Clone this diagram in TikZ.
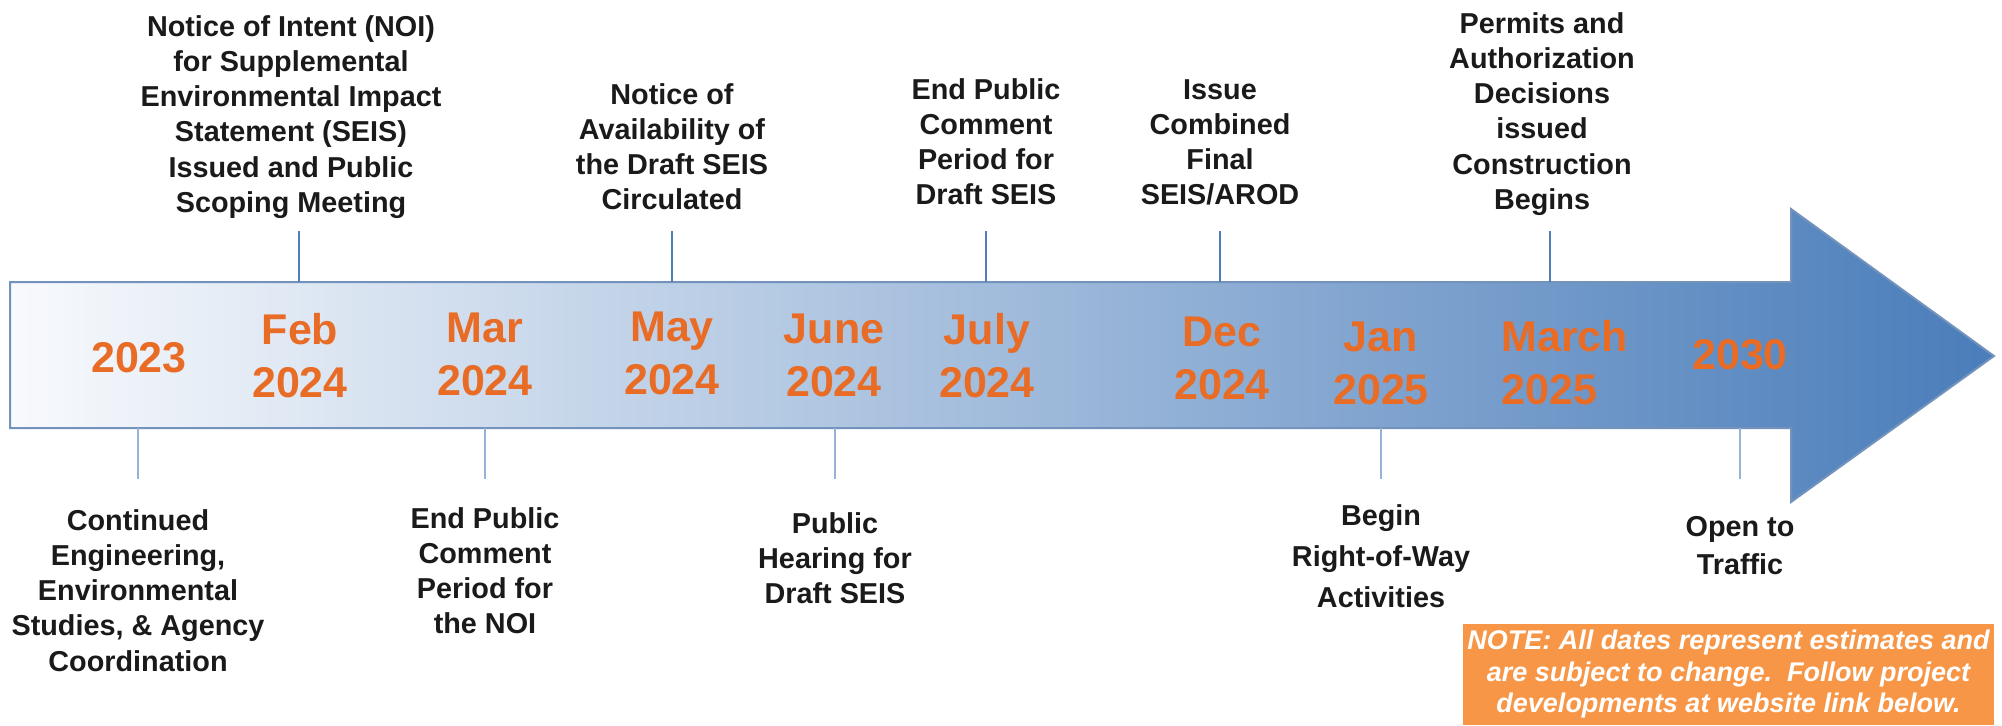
\documentclass[tikz,border=0pt]{standalone}
\usepackage{fontspec}
\setmainfont{Liberation Sans}
\usetikzlibrary{positioning}

\definecolor{dateorange}{HTML}{E86C26}
\definecolor{eventtext}{HTML}{1A1A1A}
\definecolor{arrowleft}{HTML}{F8FAFD}
\definecolor{arrowright}{HTML}{4A7DBA}
\definecolor{arrowline}{HTML}{7393BC}
\definecolor{stemdark}{HTML}{4F7DB9}
\definecolor{stemlight}{HTML}{95B3D7}
\definecolor{noteorange}{HTML}{F79646}

\begin{document}
\begin{tikzpicture}[x=0.5pt, y=-0.5pt]
    \tikzset{
      date/.style={text=dateorange, font=\fontsize{21.5}{26.5}\selectfont\bfseries, align=center, inner sep=0pt},
      event/.style={text=eventtext, font=\fontsize{14.4}{17.6}\selectfont\bfseries, align=center, inner sep=0pt, anchor=north},
      stemup/.style={draw=stemdark, line width=0.7pt},
      stemdown/.style={draw=stemlight, line width=0.7pt},
      timeline/.style={left color=arrowleft, right color=arrowright, draw=arrowline, line width=1pt},
      note/.style={fill=noteorange, text=white, font=\fontsize{13.5}{15.75}\selectfont\bfseries\itshape, align=center, inner sep=0pt, minimum width=265.5pt, minimum height=50.5pt}
    }
    \useasboundingbox (0,0) rectangle (2002,725);

    % arrow
    \path[timeline] (10,282) -- (1791,282) -- (1791,209) -- (1994,356) -- (1791,502) -- (1791,428) -- (10,428) -- cycle;

    % dates
    \node[date] (d2023) at (139,358) {2023};
    \node[date, anchor=north] (dfeb) at (300,313) {Feb\\2024};
    \node[date, anchor=north] (dmar) at (485,313) {Mar\\2024};
    \node[date, anchor=north] (dmay) at (672,312) {May\\2024};
    \node[date, anchor=north] (djune) at (834,314) {June\\2024};
    \node[date, anchor=north] (djuly) at (987,313) {July\\2024};
    \node[date, anchor=north] (ddec) at (1222,317) {Dec\\2024};
    \node[date, anchor=north] (djan) at (1381,322) {Jan\\2025};
    \node[date, anchor=north west, align=left] (dmarch) at (1501,320) {March\\2025};
    \node[date] (d2030) at (1740,355) {2030};

    % events above
    \node[event] (noi) at (291,15) {Notice of Intent (NOI)\\for Supplemental\\Environmental Impact\\Statement (SEIS)\\Issued and Public\\Scoping Meeting};
    \node[event] (avail) at (672,83) {Notice of\\Availability of\\the Draft SEIS\\Circulated};
    \node[event] (enddraft) at (986,78) {End Public\\Comment\\Period for\\Draft SEIS};
    \node[event] (final) at (1220,79) {Issue\\Combined\\Final\\SEIS/AROD};
    \node[event] (permits) at (1542,12) {Permits and\\Authorization\\Decisions\\issued\\Construction\\Begins};

    % events below
    \node[event] (cont) at (138,509) {Continued\\Engineering,\\Environmental\\Studies, \& Agency\\Coordination};
    \node[event] (endnoi) at (485,507) {End Public\\Comment\\Period for\\the NOI};
    \node[event] (hearing) at (835,512) {Public\\Hearing for\\Draft SEIS};
    \node[event] (row) at (1381,504) {Begin\\[3pt]Right-of-Way\\[3pt]Activities};
    \node[event] (open) at (1740,516) {Open to\\[1.5pt]Traffic};

    % note
    \node[note] (remark) at (1728.5,674.5) {NOTE: All dates represent estimates and\\are subject to change.\ \ Follow project\\developments at website link below.};

    % stems
    \coordinate (s-noi) at (299,231);   \coordinate (a-noi) at (299,282);
    \coordinate (s-avail) at (672,231); \coordinate (a-avail) at (672,282);
    \coordinate (s-enddraft) at (986,231); \coordinate (a-enddraft) at (986,282);
    \coordinate (s-final) at (1220,231); \coordinate (a-final) at (1220,282);
    \coordinate (s-permits) at (1550,231); \coordinate (a-permits) at (1550,282);
    \coordinate (s-cont) at (138,479);  \coordinate (a-cont) at (138,428);
    \coordinate (s-endnoi) at (485,479); \coordinate (a-endnoi) at (485,428);
    \coordinate (s-hearing) at (835,479); \coordinate (a-hearing) at (835,428);
    \coordinate (s-row) at (1381,479);  \coordinate (a-row) at (1381,428);
    \coordinate (s-open) at (1740,479); \coordinate (a-open) at (1740,428);

    \draw[stemup] (s-noi) -- (a-noi);
    \draw[stemup] (s-avail) -- (a-avail);
    \draw[stemup] (s-enddraft) -- (a-enddraft);
    \draw[stemup] (s-final) -- (a-final);
    \draw[stemup] (s-permits) -- (a-permits);
    \draw[stemdown] (a-cont) -- (s-cont);
    \draw[stemdown] (a-endnoi) -- (s-endnoi);
    \draw[stemdown] (a-hearing) -- (s-hearing);
    \draw[stemdown] (a-row) -- (s-row);
    \draw[stemdown] (a-open) -- (s-open);
\end{tikzpicture}
\end{document}
